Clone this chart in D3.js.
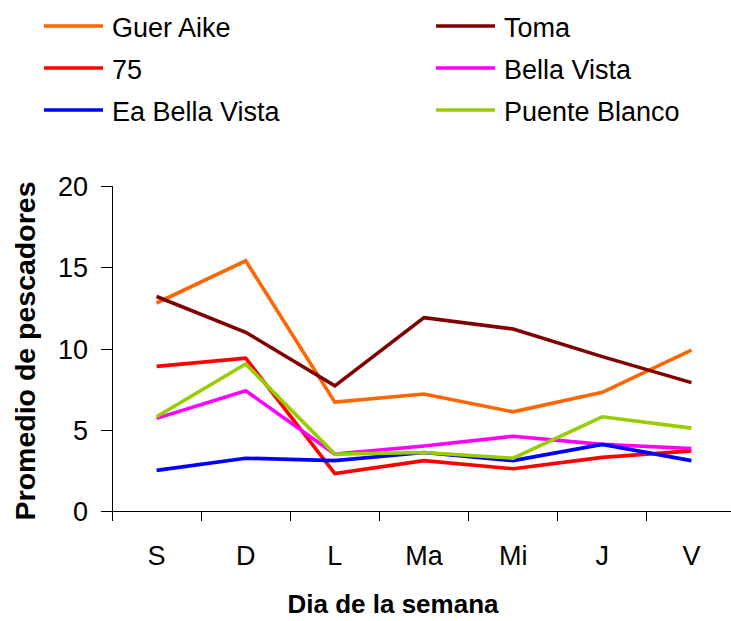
<!DOCTYPE html>
<meta charset="utf-8">
<style>
body { margin: 0; background: #fff; }
svg { font-family: "Liberation Sans", Arial, sans-serif; }
.axis path, .axis line { fill: none; stroke: #000; stroke-width: 1px; shape-rendering: crispEdges; }
.axis text { font-size: 27px; fill: #000; }
.serie { fill: none; stroke-width: 3.6px; stroke-linejoin: miter; }
</style>
<body>
<script src="https://d3js.org/d3.v7.min.js"></script>
<script>
// dias de la semana
var dias = ["S", "D", "L", "Ma", "Mi", "J", "V"];
var yTicks = [0, 5, 10, 15, 20];

var guerAike     = [12.8, 15.4, 6.7, 7.2, 6.1, 7.3, 9.9];
var toma         = [13.2, 11.0, 7.7, 11.9, 11.2, 9.5, 7.9];
var s75          = [8.9, 9.4, 2.3, 3.1, 2.6, 3.3, 3.7];
var bellaVista   = [5.7, 7.4, 3.5, 4.0, 4.6, 4.1, 3.85];
var eaBellaVista = [2.5, 3.25, 3.1, 3.6, 3.1, 4.1, 3.1];
var puenteBlanco = [5.8, 9.05, 3.5, 3.6, 3.25, 5.8, 5.1];

var nombres = ["Guer Aike", "Toma", "75", "Bella Vista", "Ea Bella Vista", "Puente Blanco"];
var colores = ["#ff6600", "#800000", "#ff0000", "#ff00ff", "#0000ff", "#99cc00"];

var series = [guerAike, toma, s75, bellaVista, eaBellaVista, puenteBlanco].map(function(v, i) {
  return { name: nombres[i], color: colores[i], values: v };
});

var width = 731, height = 621;

var svg = d3.select("body").append("svg")
    .attr("width", width)
    .attr("height", height);

var x = d3.scaleBand()
    .domain(dias)
    .range([112, 736]);

var y = d3.scaleLinear()
    .domain([0, 20])
    .range([511, 186]);

// eje y
svg.append("g")
    .attr("class", "axis")
    .attr("transform", "translate(112,0)")
    .call(d3.axisLeft(y).tickValues(yTicks).tickSize(11).tickPadding(13))
  .selectAll("text")
    .attr("dy", "0.36em");

// eje x: lineas de marca en los bordes de cada categoria
var xAxis = svg.append("g")
    .attr("class", "axis")
    .attr("transform", "translate(0,511)");

xAxis.append("line")
    .attr("x1", x.range()[0])
    .attr("x2", x.range()[1]);

xAxis.selectAll(".tk")
    .data(dias.map(function(d) { return x(d); }).concat([x.range()[1]]))
  .enter().append("line")
    .attr("class", "tk")
    .attr("x1", function(d) { return d; })
    .attr("x2", function(d) { return d; })
    .attr("y1", 0)
    .attr("y2", 10);

xAxis.selectAll(".lbl")
    .data(dias)
  .enter().append("text")
    .attr("class", "lbl")
    .attr("x", function(d) { return x(d) + x.bandwidth() / 2; })
    .attr("y", 54)
    .attr("text-anchor", "middle")
    .text(function(d) { return d; });

// titulos
svg.append("text")
    .attr("x", 393)
    .attr("y", 613)
    .attr("text-anchor", "middle")
    .style("font-size", "26px")
    .style("font-weight", "bold")
    .text("Dia de la semana");

svg.append("text")
    .attr("transform", "translate(35,351) rotate(-90)")
    .attr("text-anchor", "middle")
    .style("font-size", "28.5px")
    .style("font-weight", "bold")
    .text("Promedio de pescadores");

// lineas
var line = d3.line()
    .x(function(d, i) { return x(dias[i]) + x.bandwidth() / 2; })
    .y(function(d) { return y(d); });

svg.selectAll(".serie")
    .data(series)
  .enter().append("path")
    .attr("class", "serie")
    .attr("stroke", function(d) { return d.color; })
    .attr("d", function(d) { return line(d.values); });

// leyenda
var legend = svg.selectAll(".legend")
    .data(series)
  .enter().append("g")
    .attr("class", "legend")
    .attr("transform", function(d, i) {
      return "translate(" + (i % 2 === 0 ? 44 : 436) + "," + (26 + Math.floor(i / 2) * 42) + ")";
    });

legend.append("line")
    .attr("x1", 0)
    .attr("x2", 59)
    .attr("stroke", function(d) { return d.color; })
    .attr("stroke-width", 3.6);

legend.append("text")
    .attr("x", 68)
    .attr("y", 11)
    .style("font-size", "27px")
    .text(function(d) { return d.name; });
</script>
